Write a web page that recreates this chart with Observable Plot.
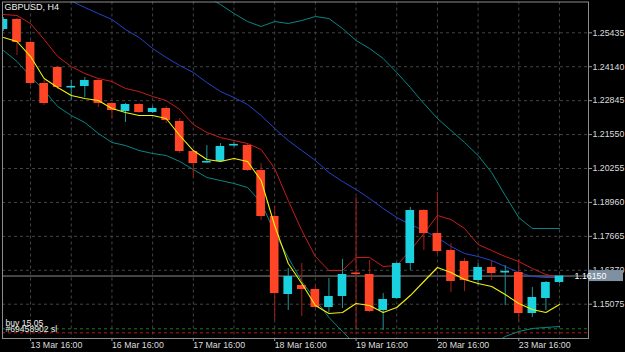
<!DOCTYPE html>
<html><head><meta charset="utf-8">
<script src="https://cdn.jsdelivr.net/npm/d3@7"></script>
<script src="https://cdn.jsdelivr.net/npm/@observablehq/plot@0.6"></script>
<style>html,body{margin:0;padding:0;background:#000;overflow:hidden}</style>
</head><body><div id="chart"></div>
<script>
const symbolLabel = "GBPUSD, H4";
// H4 bars, 13 Mar 08:00 .. 23 Mar 16:00
const open  = [1.25561,1.25943,1.25065,1.23500,1.24111,1.23328,1.23385,1.23614,1.22736,1.22431,1.22698,1.22393,1.22545,1.22049,1.20904,1.20465,1.20522,1.21114,1.21133,1.20179,1.18423,1.15445,1.15789,1.15636,1.14949,1.15369,1.16266,1.16209,1.14835,1.15293,1.16629,1.18652,1.17774,1.17125,1.16705,1.15980,1.16476,1.16266,1.16285,1.14720,1.15293,1.15904];
const high  = [1.26019,1.25981,1.25103,1.23614,1.24149,1.23614,1.23729,1.23652,1.22775,1.22736,1.22736,1.22622,1.22622,1.22164,1.20942,1.21133,1.21209,1.21248,1.21209,1.20446,1.18805,1.16438,1.16629,1.15789,1.16056,1.16782,1.19148,1.16743,1.15484,1.16667,1.18766,1.18690,1.19339,1.17392,1.16820,1.16629,1.16705,1.16552,1.16782,1.15713,1.15942,1.16056];
const low   = [1.25485,1.24569,1.23423,1.22660,1.23271,1.22851,1.22965,1.22584,1.22164,1.22011,1.22355,1.22355,1.21973,1.20828,1.19912,1.20446,1.20484,1.21076,1.20141,1.18270,1.14453,1.14835,1.14606,1.14911,1.14758,1.14911,1.14071,1.14758,1.14071,1.15255,1.16362,1.17125,1.16972,1.15522,1.15560,1.15789,1.15980,1.15026,1.14415,1.14568,1.14835,1.15865];
const close = [1.25943,1.25065,1.23500,1.22736,1.23347,1.23366,1.23614,1.22736,1.22469,1.22698,1.22393,1.22545,1.22087,1.20904,1.20446,1.20503,1.21095,1.21152,1.20179,1.18423,1.15484,1.16133,1.15636,1.14949,1.15369,1.16209,1.16228,1.14797,1.15255,1.16629,1.18652,1.17774,1.17087,1.15942,1.15980,1.16476,1.16247,1.16304,1.14720,1.15331,1.15904,1.16150];
// indicators
const maYellow = [1.25256,1.25103,1.24530,1.23691,1.23347,1.23042,1.22927,1.22851,1.22545,1.22393,1.22278,1.22278,1.22164,1.21515,1.20942,1.20599,1.20522,1.20637,1.20522,1.19797,1.18079,1.16629,1.15865,1.15026,1.14720,1.14758,1.15102,1.15026,1.14758,1.14949,1.15407,1.15942,1.16476,1.16285,1.16018,1.15865,1.15751,1.15445,1.15102,1.14873,1.14758,1.15064];
const maRed = [1.26134,1.26095,1.25790,1.25179,1.24530,1.24149,1.23881,1.23691,1.23576,1.23309,1.23194,1.23004,1.22851,1.22507,1.21935,1.21629,1.21438,1.21324,1.21209,1.20980,1.20255,1.19034,1.17888,1.16896,1.16362,1.16362,1.16858,1.16858,1.16514,1.16552,1.17125,1.17774,1.18461,1.18308,1.17965,1.17354,1.17125,1.16896,1.16705,1.16438,1.16209,1.16094];
const bbMiddle = [null,null,null,null,1.26859,1.26649,1.26401,1.26172,1.25943,1.25561,1.25256,1.24836,1.24492,1.24187,1.23920,1.23538,1.23194,1.22965,1.22698,1.22278,1.21782,1.21324,1.20942,1.20561,1.20102,1.19759,1.19454,1.19110,1.18728,1.18385,1.18118,1.17888,1.17621,1.17278,1.17011,1.16896,1.16743,1.16514,1.16285,1.16133,1.16094,1.16094];
const bbUpper = [null,null,null,null,null,null,null,null,null,null,null,null,null,null,null,1.26821,1.26515,1.26172,1.25866,1.25676,1.25866,1.25790,1.25905,1.26057,1.25981,1.25599,1.25141,1.24836,1.24454,1.23920,1.23347,1.22736,1.22164,1.21706,1.21248,1.20751,1.20102,1.19225,1.18385,1.17965,1.17965,1.17965];
const bbLower = [1.24759,1.24340,1.23767,1.23233,1.22622,1.22278,1.22011,1.21591,1.21248,1.21133,1.20942,1.20828,1.20751,1.20522,1.20217,1.19912,1.19797,1.19683,1.19530,1.18957,1.17812,1.16858,1.15942,1.15255,1.14568,1.14033,1.13499,null,null,null,null,null,null,null,null,null,1.13499,1.13842,1.14033,1.14148,1.14186,1.14224];
// axes
const yTicks = [1.25435,1.24140,1.22845,1.21550,1.20255,1.18960,1.17665,1.16370,1.15075];
const xTickIdx = [2,8,14,20,26,32,38];
const xTickLabels = ["13 Mar 16:00","16 Mar 16:00","17 Mar 16:00","18 Mar 16:00","19 Mar 16:00","20 Mar 16:00","23 Mar 16:00"];
const xGridIdx = [2,5,8,11,14,17,20,23,26,29,32,35,38,41];
const lastPrice = 1.16150;
const buyPrice = 1.14136, slPrice = 1.13983;
const buyLabel = "buy 15.05", slLabel = "#69458902 sl";

const bars = open.map((o, i) => ({i, o, h: high[i], l: low[i], c: close[i], up: close[i] >= o}));
const BULL = "#1ad2df", BEAR = "#ff4526", BULLW = "#23939a", BEARW = "#a01f16";
const FONT = "'Liberation Sans', Arial, sans-serif";

const plot = Plot.plot({
  width: 625, height: 352,
  marginLeft: 2, marginRight: 37, marginTop: 1.5, marginBottom: 14,
  style: {background: "#000", color: "#ddd", fontFamily: FONT, fontSize: "8.8px"},
  x: {type: "linear", domain: [-0.07, 43.14], axis: null, label: null},
  y: {type: "linear", domain: [1.13766, 1.26611], axis: null, label: null},
  marks: [
    Plot.ruleY(yTicks, {stroke: "#444", strokeDasharray: "3,3"}),
    Plot.ruleX(xGridIdx, {stroke: "#444", strokeDasharray: "3,3"}),
    Plot.ruleY([buyPrice], {stroke: "#1d7a1d", strokeDasharray: "3,3"}),
    Plot.ruleY([slPrice], {stroke: "#b81a1a", strokeDasharray: "3,3"}),
    Plot.ruleY([lastPrice], {stroke: "#8c8c8c"}),
    Plot.lineY(bbUpper, {stroke: "#0b8585", strokeWidth: 1, clip: true}),
    Plot.lineY(bbLower, {stroke: "#0b8585", strokeWidth: 1, clip: true}),
    Plot.lineY(bbMiddle, {stroke: "#2244cc", strokeWidth: 1, clip: true}),
    Plot.lineY(maRed, {stroke: "#c81c1c", strokeWidth: 1, clip: true}),
    Plot.ruleX(bars, {x: "i", y1: "l", y2: "h", stroke: d => d.up ? BULLW : BEARW, clip: true}),
    Plot.rect(bars, {x1: d => d.i - 0.32, x2: d => d.i + 0.32, y1: "o", y2: d => Math.abs(d.c - d.o) < 0.0005 ? d.o + (d.c >= d.o ? 0.0006 : -0.0006) : d.c, fill: d => d.up ? BULL : BEAR, clip: true}),
    Plot.lineY(maYellow, {stroke: "#f2f20a", strokeWidth: 1.1, clip: true}),
    Plot.text([symbolLabel], {frameAnchor: "top-left", dx: 2, dy: 2, textAnchor: "start", lineAnchor: "top", fill: "#f0f0f0", fontSize: 9}),
    Plot.text([{t: buyLabel, p: buyPrice}], {text: "t", y: "p", frameAnchor: "left", textAnchor: "start", dx: 3, dy: -5.5, fill: "#eee", fontSize: 8.6}),
    Plot.text([{t: slLabel, p: slPrice}], {text: "t", y: "p", frameAnchor: "left", textAnchor: "start", dx: 3, dy: -4, fill: "#eee", fontSize: 8.6}),
    Plot.axisY(yTicks, {anchor: "right", label: null, tickFormat: d => d.toFixed(5), tickSize: 3, tickPadding: 1, stroke: "#999", fill: "#ddd"}),
    Plot.axisX(xTickIdx, {anchor: "bottom", label: null, tickFormat: d => xTickLabels[xTickIdx.indexOf(d)], textAnchor: "start", tickSize: 3, tickPadding: 0, stroke: "#999", fill: "#ddd"}),
    Plot.frame({stroke: "#8c8c8c"})
  ]
});
document.getElementById("chart").appendChild(plot);

// current price tag on the right axis
const yy = plot.scale("y").apply(lastPrice);
const svg = d3.select(plot);
svg.append("rect").attr("x", 588).attr("y", yy - 5.5).attr("width", 35).attr("height", 11).attr("fill", "#7f90a3");
svg.append("text").attr("x", 590.5).attr("y", yy).attr("dy", "0.35em")
  .attr("fill", "#fff").attr("font-size", "8.8px").attr("font-family", FONT).text(lastPrice.toFixed(5));
</script>
</body></html>
